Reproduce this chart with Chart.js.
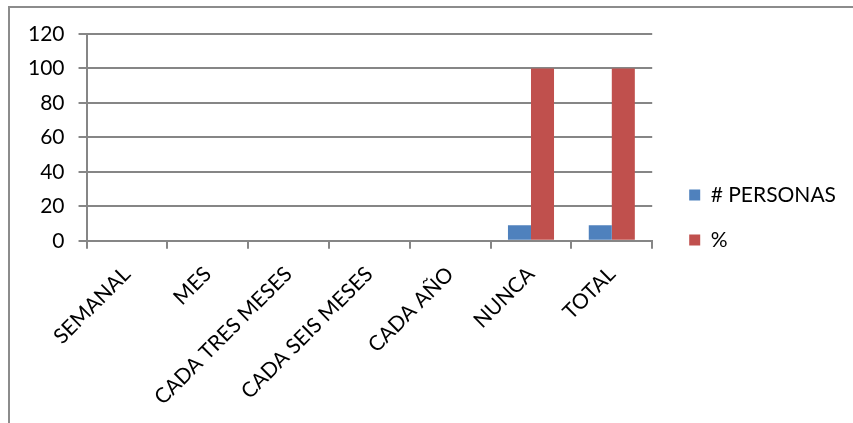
<!DOCTYPE html>
<html>
<head>
<meta charset="utf-8">
<script src="https://cdn.jsdelivr.net/npm/chart.js@4"></script>
<style>
  html, body { margin: 0; padding: 0; background: #fff; overflow: hidden; }
  #frame { position: absolute; left: 8px; top: 6px; width: 900px; height: 450px; border: 2px solid #8c8c8c; box-sizing: border-box; }
  #wrap { position: absolute; left: 0; top: 0; width: 853px; height: 423px; }
</style>
</head>
<body>
<div id="frame"></div>
<div id="wrap"><canvas id="chart"></canvas></div>
<script>
// categories and series
const categories = ['SEMANAL', 'MES', 'CADA TRES MESES', 'CADA SEIS MESES', 'CADA AÑO', 'NUNCA', 'TOTAL'];
const personas = [0, 0, 0, 0, 0, 9, 9];
const porcentaje = [0, 0, 0, 0, 0, 100, 100];
const seriesNames = ['# PERSONAS', '%'];
const yTicks = { min: 0, max: 120, step: 20 };

const gridGray = '#868686';
const font = { family: 'Lato, "Open Sans", sans-serif', size: 21 };
const legendGap = 13; // extra room between plot and legend
const legendLift = 11; // legend sits a bit above the middle

// widen the legend box on its left side so the plot ends where Excel put it
const legendShift = {
  id: 'legendShift',
  beforeInit(chart) {
    const lg = chart.legend;
    if (!lg) return;
    const fit = lg.fit;
    lg.fit = function () { fit.apply(this, arguments); this.width += legendGap; };
    const draw = lg.draw;
    lg.draw = function () {
      this.left += legendGap;
      this.top -= legendLift;
      this.bottom -= legendLift;
      draw.apply(this, arguments);
      this.left -= legendGap;
      this.top += legendLift;
      this.bottom += legendLift;
    };
  }
};

new Chart(document.getElementById('chart'), {
  type: 'bar',
  data: {
    labels: categories,
    datasets: [
      { label: seriesNames[0], data: personas, backgroundColor: '#4F81BD' },
      { label: seriesNames[1], data: porcentaje, backgroundColor: '#C0504D' }
    ]
  },
  plugins: [legendShift],
  options: {
    responsive: true,
    maintainAspectRatio: false,
    animation: false,
    datasets: { bar: { categoryPercentage: 0.57, barPercentage: 1.0 } },
    layout: { padding: { left: 14, top: 34, right: 7, bottom: 0 } },
    plugins: {
      tooltip: { enabled: false },
      legend: {
        position: 'right',
        labels: { boxWidth: 11, boxHeight: 11, padding: 24, color: '#000', font: font }
      }
    },
    scales: {
      x: {
        grid: { drawOnChartArea: false, drawTicks: true, tickLength: 8, color: gridGray, lineWidth: 2 },
        border: { display: true, color: gridGray, width: 2 },
        ticks: { color: '#000', font: font, maxRotation: 45, minRotation: 45, autoSkip: false, padding: 13 }
      },
      y: {
        min: yTicks.min,
        max: yTicks.max,
        grid: { color: gridGray, lineWidth: 2, tickLength: 8 },
        border: { display: true, color: gridGray, width: 2 },
        ticks: { stepSize: yTicks.step, color: '#000', font: font, padding: 14 }
      }
    }
  }
});
</script>
</body>
</html>
